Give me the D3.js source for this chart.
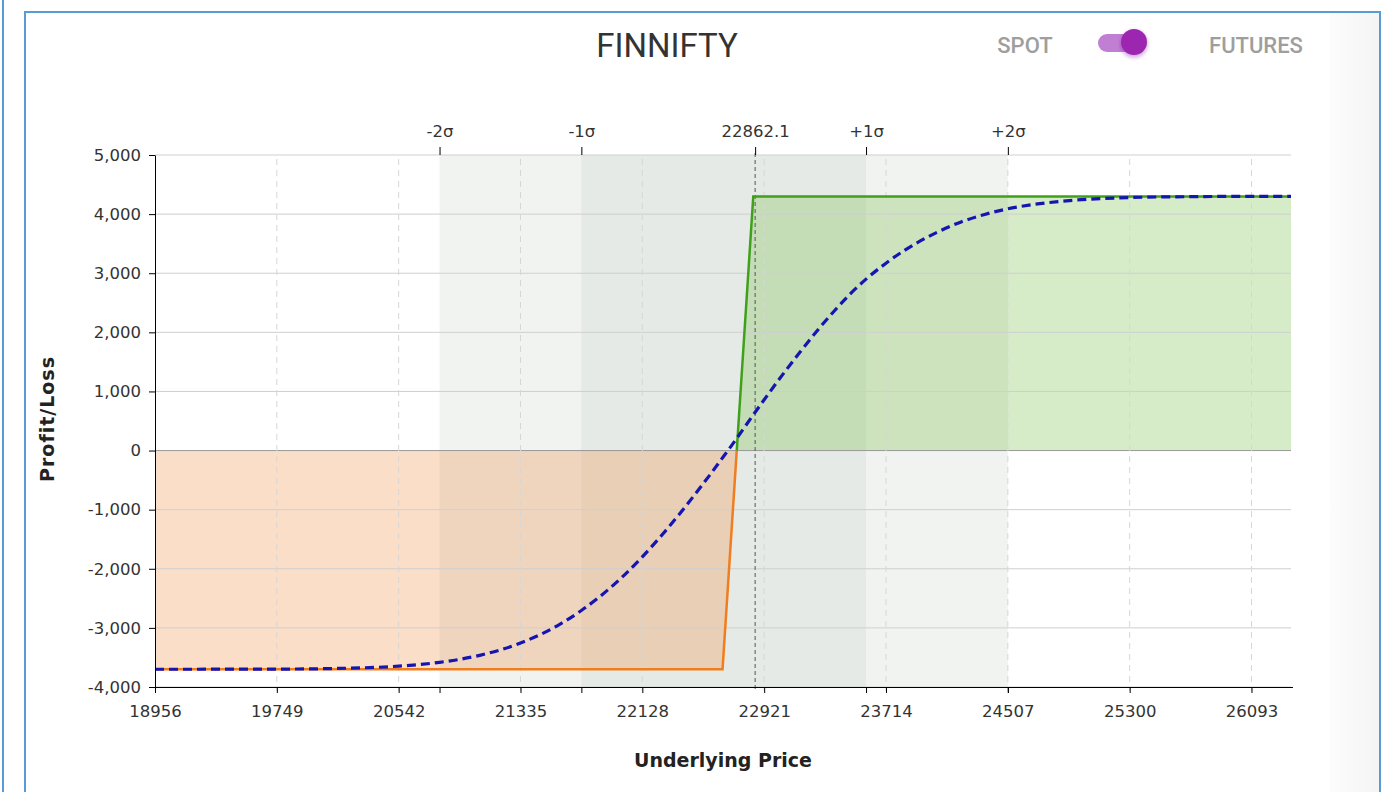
<!DOCTYPE html>
<html>
<head>
<meta charset="utf-8">
<script src="https://cdn.jsdelivr.net/npm/d3@7"></script>
<style>
  body { margin: 0; background: #fff; }
  .tick text { font-family: "DejaVu Sans", Verdana, sans-serif; font-size: 16.5px; fill: #333; }
</style>
</head>
<body>
<div id="main-svg"></div>
<script>
// payoff at expiry (strategy legs)
var payoffPrice = [18956, 22650, 22850, 26350];
var payoffValue = [-3700, -3700, 4300, 4300];

// T+0 curve
var curvePrice = [18956, 19749, 20200, 20542, 20808, 21070, 21335, 21590, 21731, 21855,
                  22000, 22128, 22250, 22370, 22480, 22563, 22640, 22712, 22800, 22921,
                  23040, 23156, 23270, 23380, 23477, 23584, 23714, 23830, 23940, 24060,
                  24195, 24350, 24507, 24680, 24845, 25050, 25300, 25700, 26093, 26350];
var curveValue = [-3700, -3697, -3683, -3647, -3583, -3464, -3256, -2941, -2706, -2463,
                  -2132, -1797, -1446, -1072, -710, -428, -158, 96, 420, 860,
                  1280, 1670, 2040, 2370, 2640, 2900, 3170, 3380, 3550, 3710,
                  3860, 3990, 4090, 4165, 4215, 4254, 4280, 4295, 4300, 4300];

var xTicks = [18956, 19749, 20542, 21335, 22128, 22921, 23714, 24507, 25300, 26093];
var yTicks = [-4000, -3000, -2000, -1000, 0, 1000, 2000, 3000, 4000, 5000];
var spot = 22862.1;
var sigmaLabels = ["-2σ", "-1σ", "+1σ", "+2σ"];
var sigmaPrice = [20808, 21731, 23584, 24507];

var width = 1388, height = 792;
var pLeft = 155, pRight = 1291, pTop = 155, pBottom = 687;

var x = d3.scaleLinear().domain([18956, 26350]).range([pLeft, pRight]);
var y = d3.scaleLinear().domain([-4000, 5000]).range([pBottom, pTop]);

var locale = d3.formatLocale({ decimal: ".", thousands: ",", grouping: [3], currency: ["", ""], minus: "-" });

var svg = d3.select("#main-svg").append("svg")
    .attr("width", width)
    .attr("height", height)
    .style("display", "block");

var defs = svg.append("defs");
defs.append("clipPath").attr("id", "above")
  .append("rect").attr("x", pLeft).attr("y", pTop).attr("width", pRight - pLeft).attr("height", y(0) - pTop);
defs.append("clipPath").attr("id", "below")
  .append("rect").attr("x", pLeft).attr("y", y(0)).attr("width", pRight - pLeft).attr("height", pBottom - y(0));
var panelGrad = defs.append("linearGradient").attr("id", "panel")
  .attr("x1", "0%").attr("x2", "100%");
panelGrad.append("stop").attr("offset", "0%").attr("stop-color", "#fcfcfc");
panelGrad.append("stop").attr("offset", "100%").attr("stop-color", "#f4f4f4");
var shadow = defs.append("filter").attr("id", "shadow")
  .attr("x", "-50%").attr("y", "-50%").attr("width", "200%").attr("height", "200%");
shadow.append("feDropShadow").attr("dx", 0).attr("dy", 2).attr("stdDeviation", 2)
  .attr("flood-color", "#7b1fa2").attr("flood-opacity", 0.45);

// page frame
svg.append("rect").attr("x", 1330).attr("y", 13).attr("width", 50).attr("height", height)
  .attr("fill", "url(#panel)");
svg.append("line").attr("x1", 3).attr("x2", 3).attr("y1", 0).attr("y2", height)
  .attr("stroke", "#5b9bd5").attr("stroke-width", 2);
svg.append("path").attr("d", "M25," + height + "V12H1380V" + height)
  .attr("fill", "none").attr("stroke", "#5b9bd5").attr("stroke-width", 2);

// title + toggle
svg.append("text").attr("x", 667).attr("y", 57).attr("text-anchor", "middle")
  .style("font-family", "Roboto, sans-serif").style("font-size", "33px").style("fill", "#333")
  .text("FINNIFTY");
svg.append("text").attr("x", 1025).attr("y", 53).attr("text-anchor", "middle")
  .style("font-family", "Roboto, sans-serif").style("font-size", "22px").style("font-weight", 500)
  .style("fill", "#9e9e9e").text("SPOT");
svg.append("text").attr("x", 1256).attr("y", 53).attr("text-anchor", "middle")
  .style("font-family", "Roboto, sans-serif").style("font-size", "22px").style("font-weight", 500)
  .style("fill", "#9e9e9e").text("FUTURES");
svg.append("rect").attr("x", 1098).attr("y", 34).attr("width", 48).attr("height", 18).attr("rx", 9)
  .attr("fill", "#c17fd3");
svg.append("circle").attr("cx", 1134).attr("cy", 42).attr("r", 13)
  .attr("fill", "#9c27b0").attr("filter", "url(#shadow)");

// sigma bands
svg.append("rect").attr("x", x(sigmaPrice[0])).attr("y", pTop)
  .attr("width", x(sigmaPrice[3]) - x(sigmaPrice[0])).attr("height", pBottom - pTop)
  .attr("fill", "#f1f3f1");
svg.append("rect").attr("x", x(sigmaPrice[1])).attr("y", pTop)
  .attr("width", x(sigmaPrice[2]) - x(sigmaPrice[1])).attr("height", pBottom - pTop)
  .attr("fill", "#e5eae6");

// profit / loss fills
var payoff = payoffPrice.map(function(d, i) { return [d, payoffValue[i]]; });
var area = d3.area()
    .x(function(d) { return x(d[0]); })
    .y0(y(0))
    .y1(function(d) { return y(d[1]); });
svg.append("path").datum(payoff).attr("d", area)
  .attr("fill", "rgb(238,145,72)").attr("fill-opacity", 0.3).attr("clip-path", "url(#below)");
svg.append("path").datum(payoff).attr("d", area)
  .attr("fill", "rgb(118,192,72)").attr("fill-opacity", 0.3).attr("clip-path", "url(#above)");

// grid
svg.append("g").selectAll("line").data(yTicks).enter().append("line")
  .attr("x1", pLeft).attr("x2", pRight)
  .attr("y1", function(d) { return y(d); }).attr("y2", function(d) { return y(d); })
  .attr("stroke", function(d) { return d == 0 ? "#999" : "#cfcfcf"; })
  .attr("stroke-width", 1);
svg.append("g").selectAll("line").data(xTicks.slice(1)).enter().append("line")
  .attr("x1", function(d) { return x(d); }).attr("x2", function(d) { return x(d); })
  .attr("y1", pTop + 4).attr("y2", pBottom + 4)
  .attr("stroke", "#d6d6d6").attr("stroke-dasharray", "6,5");

// spot line
svg.append("line").attr("x1", x(spot)).attr("x2", x(spot)).attr("y1", pTop - 2).attr("y2", pBottom + 2)
  .attr("stroke", "#555").attr("stroke-width", 1).attr("stroke-dasharray", "4,3");

// payoff lines
var line = d3.line()
    .x(function(d) { return x(d[0]); })
    .y(function(d) { return y(d[1]); });
svg.append("path").datum(payoff).attr("d", line)
  .attr("fill", "none").attr("stroke", "#f07d1e").attr("stroke-width", 2.5)
  .attr("clip-path", "url(#below)");
svg.append("path").datum(payoff).attr("d", line)
  .attr("fill", "none").attr("stroke", "#3fa01c").attr("stroke-width", 2.5)
  .attr("clip-path", "url(#above)");

var curve = curvePrice.map(function(d, i) { return [d, curveValue[i]]; });
svg.append("path").datum(curve).attr("d", line.curve(d3.curveMonotoneX))
  .attr("fill", "none").attr("stroke", "#1515b0").attr("stroke-width", 3.2)
  .attr("stroke-dasharray", "9,5");

// axes
var xAxis = d3.axisBottom(x).tickValues(xTicks).tickFormat(locale.format("d")).tickSizeOuter(0).tickPadding(12);
svg.append("g").attr("transform", "translate(0," + pBottom + ")").call(xAxis)
  .call(function(g) { g.select(".domain").attr("d", "M" + pLeft + ",0.5H" + (pRight + 2)); });
svg.append("g").attr("transform", "translate(0," + pBottom + ")")
  .call(d3.axisBottom(x).tickValues(sigmaPrice).tickFormat("").tickSizeOuter(0))
  .call(function(g) { g.select(".domain").remove(); });

var yAxis = d3.axisLeft(y).tickValues(yTicks).tickFormat(locale.format(",")).tickSizeOuter(0).tickPadding(8);
svg.append("g").attr("transform", "translate(" + pLeft + ",0)").call(yAxis);

var topVals = sigmaPrice.slice(0, 2).concat([spot]).concat(sigmaPrice.slice(2));
var topLabels = sigmaLabels.slice(0, 2).concat(["22862.1"]).concat(sigmaLabels.slice(2));
svg.append("g").attr("transform", "translate(0," + pTop + ")")
  .call(d3.axisTop(x).tickValues(topVals).tickSize(8).tickPadding(10)
    .tickFormat(function(d, i) { return topLabels[i]; }))
  .call(function(g) { g.select(".domain").remove(); });

// axis titles
svg.append("text").attr("x", 723).attr("y", 767).attr("text-anchor", "middle")
  .style("font-family", "\"DejaVu Sans\", Verdana, sans-serif").style("font-size", "19px")
  .style("font-weight", "bold").style("fill", "#222").text("Underlying Price");
svg.append("text").attr("transform", "translate(54,419) rotate(-90)").attr("text-anchor", "middle")
  .style("font-family", "\"DejaVu Sans\", Verdana, sans-serif").style("font-size", "19px")
  .style("font-weight", "bold").style("letter-spacing", "1px").style("fill", "#222").text("Profit/Loss");
</script>
</body>
</html>
